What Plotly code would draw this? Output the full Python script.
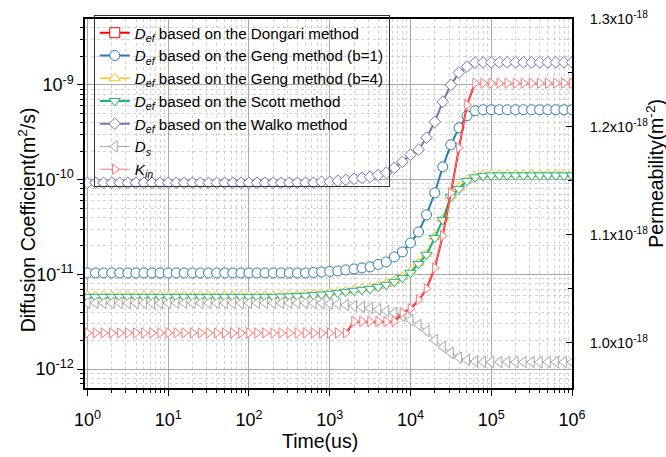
import plotly.graph_objects as go

# sample times (us)
time = [1.0, 1.26, 1.58, 2.0, 2.51, 3.16, 3.98, 5.01, 6.31, 7.94,
        10, 12.6, 15.8, 20.0, 25.1, 31.6, 39.8, 50.1, 63.1, 79.4,
        100, 126, 158, 200, 251, 316, 398, 501, 631, 794,
        1000, 1260, 1580, 2000, 2510, 3160, 3980, 5010, 6310, 7940,
        1.0e4, 1.26e4, 1.58e4, 2.0e4, 2.51e4, 3.16e4, 3.98e4, 5.01e4, 6.31e4, 7.94e4,
        1.0e5, 1.26e5, 1.58e5, 2.0e5, 2.51e5, 3.16e5, 3.98e5, 5.01e5, 6.31e5, 7.94e5, 1.0e6]

walko = [9.25e-11] * 29 + [9.48e-11, 9.48e-11, 9.71e-11, 9.95e-11,
         1.02e-10, 1.045e-10, 1.07e-10, 1.12e-10, 1.18e-10, 1.33e-10, 1.54e-10, 1.83e-10,
         2.07e-10, 2.77e-10, 4.08e-10, 6.64e-10, 1.00e-9, 1.35e-9, 1.56e-9, 1.72e-9] + [1.73e-9] * 12

geng1 = [1.035e-11] * 28 + [1.047e-11, 1.06e-11, 1.073e-11, 1.086e-11, 1.113e-11,
         1.141e-11, 1.169e-11, 1.198e-11, 1.273e-11, 1.352e-11, 1.527e-11, 1.725e-11,
         2.148e-11, 2.807e-11, 4.246e-11, 7.25e-11, 1.366e-10, 2.333e-10, 3.528e-10,
         4.725e-10, 5.337e-10] + [5.468e-10] * 12

geng4 = [5.93e-12] * 24 + [5.98e-12, 6.0e-12, 6.06e-12, 6.11e-12, 6.19e-12, 6.27e-12,
         6.39e-12, 6.54e-12, 6.70e-12, 6.87e-12, 7.04e-12, 7.21e-12, 7.56e-12, 7.95e-12,
         8.55e-12, 9.42e-12, 1.064e-11, 1.32e-11, 1.65e-11, 2.49e-11, 3.85e-11, 6.74e-11,
         8.18e-11, 9.94e-11, 1.083e-10, 1.123e-10] + [1.137e-10] * 11

scott = [5.79e-12] * 24 + [5.83e-12, 5.86e-12, 5.91e-12, 5.96e-12, 6.04e-12, 6.12e-12,
         6.23e-12, 6.38e-12, 6.54e-12, 6.70e-12, 6.87e-12, 7.03e-12, 7.38e-12, 7.76e-12,
         8.34e-12, 9.19e-12, 1.038e-11, 1.29e-11, 1.61e-11, 2.43e-11, 3.76e-11, 6.58e-11,
         7.98e-11, 9.7e-11, 1.057e-10, 1.096e-10] + [1.109e-10] * 11

ds = [4.99e-12] * 30 + [4.92e-12, 4.87e-12, 4.75e-12, 4.63e-12, 4.52e-12, 4.41e-12,
      4.26e-12, 4.10e-12, 3.91e-12, 3.63e-12, 3.30e-12, 2.92e-12, 2.52e-12, 2.03e-12,
      1.71e-12, 1.48e-12, 1.32e-12, 1.245e-12, 1.20e-12] + [1.186e-12] * 12

kin = [1.009e-18] * 33 + [1.0197e-18] * 6 + [1.0278e-18, 1.0315e-18, 1.0398e-18, 1.050e-18,
       1.0694e-18, 1.0991e-18, 1.1389e-18, 1.1806e-18, 1.2204e-18] + [1.2405e-18] * 13

dongari_time = time[32:49]
dongari = [2.385e-12, 3.162e-12, 3.162e-12, 3.162e-12, 3.162e-12, 3.162e-12, 3.162e-12,
           3.91e-12, 4.31e-12, 5.36e-12, 7.01e-12, 1.169e-11, 2.547e-11, 7.25e-11,
           2.17e-10, 6.18e-10, 1.047e-9]

left_tickvals = [1e-12, 1e-11, 1e-10, 1e-9]
left_ticktext = ["10<sup>-12</sup>", "10<sup>-11</sup>", "10<sup>-10</sup>", "10<sup>-9</sup>"]
x_tickvals = [1, 10, 100, 1e3, 1e4, 1e5, 1e6]
x_ticktext = ["10<sup>0</sup>", "10<sup>1</sup>", "10<sup>2</sup>", "10<sup>3</sup>",
              "10<sup>4</sup>", "10<sup>5</sup>", "10<sup>6</sup>"]
right_tickvals = [1.0e-18, 1.1e-18, 1.2e-18, 1.3e-18]
right_ticktext = ["1.0x10<sup>-18</sup>", "1.1x10<sup>-18</sup>", "1.2x10<sup>-18</sup>", "1.3x10<sup>-18</sup>"]

C_DONG = "#FF0000"
C_G1 = "#2F7BB0"
C_G4 = "#FFC125"
C_SC = "#1EB478"
C_WA = "#7575B5"
C_DS = "#A8A8A8"
C_KIN = "#FF7A7A"

DEF = "<i>D</i><sub><i>ef</i></sub>"
FONT = "Liberation Sans, Arial, sans-serif"

fig = go.Figure()

def mk(sym, col, size):
    return dict(symbol=sym, size=size, color="white", line=dict(color=col, width=1))

# legend-only entry for Dongari
fig.add_trace(go.Scatter(x=[None], y=[None], mode="lines+markers", name=DEF + " based on the Dongari method",
                         line=dict(color=C_DONG, width=2), marker=mk("square", C_DONG, 10), legendrank=1))

fig.add_trace(go.Scatter(x=time, y=walko, mode="lines+markers", name=DEF + " based on the Walko method",
                         line=dict(color=C_WA, width=2), marker=mk("diamond", C_WA, 9), legendrank=5))
fig.add_trace(go.Scatter(x=time, y=geng1, mode="lines+markers", name=DEF + " based on the Geng method (b=1)",
                         line=dict(color=C_G1, width=2), marker=mk("circle", C_G1, 10), legendrank=2))
fig.add_trace(go.Scatter(x=time, y=geng4, mode="lines+markers", name=DEF + " based on the Geng method (b=4)",
                         line=dict(color=C_G4, width=1.5), marker=mk("triangle-up", C_G4, 10), legendrank=3))
fig.add_trace(go.Scatter(x=time, y=scott, mode="lines+markers", name=DEF + " based on the Scott method",
                         line=dict(color=C_SC, width=2), marker=mk("triangle-down", C_SC, 10), legendrank=4))
fig.add_trace(go.Scatter(x=time, y=ds, mode="lines+markers", name="<i>D</i><sub><i>s</i></sub>",
                         line=dict(color=C_DS, width=1), marker=mk("triangle-left", C_DS, 10), legendrank=6))
fig.add_trace(go.Scatter(x=dongari_time, y=dongari, mode="lines", showlegend=False,
                         line=dict(color=C_DONG, width=2)))
fig.add_trace(go.Scatter(x=time, y=kin, mode="lines+markers", name="<i>K</i><sub><i>in</i></sub>", yaxis="y2",
                         line=dict(color=C_KIN, width=1), marker=mk("triangle-right", C_KIN, 9), legendrank=7))

grid_major = "#A8A8A8"
grid_minor = "#D2D2D2"

fig.update_layout(
    width=666, height=457,
    margin=dict(l=85, r=94, t=19, b=69),
    paper_bgcolor="white", plot_bgcolor="white",
    font=dict(family=FONT, size=18, color="black"),
    showlegend=True,
    legend=dict(x=0.018, y=1.01, xanchor="left", yanchor="top",
                bgcolor="rgba(0,0,0,0)", bordercolor="#333333", borderwidth=1,
                font=dict(family=FONT, size=15.2, color="black"), tracegroupgap=0),
    xaxis=dict(type="log", range=[-0.03, 6.0], tickmode="array", tickvals=x_tickvals, ticktext=x_ticktext,
               showline=True, linecolor="black", linewidth=1.5, mirror=True, automargin=False,
               ticks="outside", ticklen=6, tickwidth=1.2, tickcolor="black",
               showgrid=True, gridcolor=grid_major, gridwidth=1, zeroline=False,
               minor=dict(dtick="D1", ticks="outside", ticklen=3, tickcolor="black",
                          showgrid=True, gridcolor=grid_minor, griddash="dot", gridwidth=1),
               tickfont=dict(size=18), ticklabelstandoff=9),
    yaxis=dict(type="log", range=[-12.2, -8.304], tickmode="array", tickvals=left_tickvals, ticktext=left_ticktext,
               showline=True, linecolor="black", linewidth=1.5, automargin=False,
               ticks="outside", ticklen=6, tickwidth=1.2, tickcolor="black",
               showgrid=True, gridcolor=grid_major, gridwidth=1, zeroline=False,
               minor=dict(dtick="D1", ticks="outside", ticklen=3, tickcolor="black",
                          showgrid=True, gridcolor=grid_minor, griddash="dot", gridwidth=1),
               tickfont=dict(size=18)),
    yaxis2=dict(overlaying="y", side="right", range=[0.958e-18, 1.3e-18],
                tickmode="array", tickvals=right_tickvals, ticktext=right_ticktext,
                showline=True, linecolor="black", linewidth=1.5, automargin=False,
                ticks="inside", ticklen=6, tickwidth=1.2, tickcolor="black",
                showgrid=False, zeroline=False,
                minor=dict(dtick=0.05e-18, tick0=0, ticks="inside", ticklen=4, tickcolor="black"),
                tickfont=dict(size=14.5), ticklabelstandoff=13),
    annotations=[
        dict(text="Diffusion Coefficient(m<sup>2</sup>/s)", xref="paper", yref="paper",
             x=-0.12, y=0.456, textangle=-90, showarrow=False, font=dict(size=19.5),
             xanchor="center", yanchor="middle"),
        dict(text="Time(us)", xref="paper", yref="paper", x=0.4825, y=-0.143,
             showarrow=False, font=dict(size=19.5), xanchor="center", yanchor="middle"),
        dict(text="Permeability(m<sup>-2</sup>)", xref="paper", yref="paper", x=1.17, y=0.583,
             textangle=-90, showarrow=False, font=dict(size=19.5), xanchor="center", yanchor="middle"),
    ],
)

fig.write_html("out.html")
